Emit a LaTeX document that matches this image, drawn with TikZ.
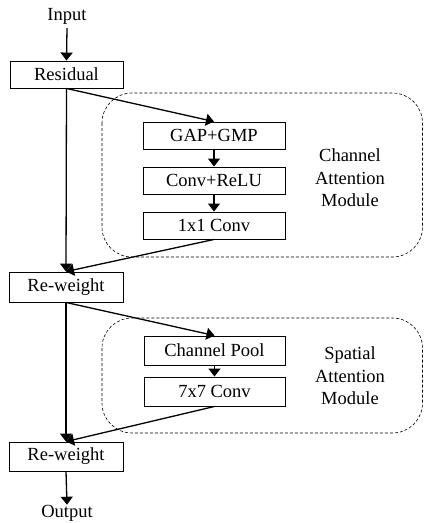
\documentclass[tikz,border=0pt]{standalone}
\usepackage{fontspec}
\setmainfont{Liberation Serif}
\usetikzlibrary{arrows.meta}
\begin{document}
\begin{tikzpicture}[x=1pt,y=-1pt,
  font=\fontsize{18.5}{22.5}\selectfont,
  blk/.style={draw,line width=0.9pt,inner sep=0pt,minimum height=27pt},
  flow/.style={line width=1.3pt,-{Triangle[length=8pt,width=12pt]}},
  group/.style={draw,dashed,line width=0.6pt,dash pattern=on 3pt off 2pt,rounded corners=30pt},
  lbl/.style={align=center,inner sep=0pt}]
\useasboundingbox (0,0) rectangle (424,523);

% dashed module outlines
\draw[group] (102,93) rectangle (422.5,257);
\draw[group] (102,318) rectangle (422.5,433);

% main column
\node[lbl] (in) at (67,16) {Input};
\node[blk,minimum width=113pt] (res) at (66.5,74.5) {Residual};
\node[blk,minimum width=114pt,minimum height=30pt] (rw1) at (66,287) {Re-weight};
\node[blk,minimum width=114pt,minimum height=29pt] (rw2) at (66,456.5) {Re-weight};
\node[lbl] (out) at (67,513) {Output};

% channel attention branch
\node[blk,minimum width=142pt] (gap) at (214,135.5) {GAP+GMP};
\node[blk,minimum width=142pt] (cr) at (214,180.5) {Conv+ReLU};
\node[blk,minimum width=142pt] (c1) at (214,225.5) {1x1 Conv};
\node[lbl] (cam) at (350,178) {Channel\\Attention\\Module};

% spatial attention branch
\node[blk,minimum width=141pt,minimum height=29pt] (cp) at (214.5,350.5) {Channel Pool};
\node[blk,minimum width=141pt,minimum height=29pt] (c7) at (214.5,391.5) {7x7 Conv};
\node[lbl] (sam) at (350,376) {Spatial\\Attention\\Module};

% connectors
\draw[flow] (in.south) ++(0,4) -- (res.north);
\draw[flow] (res.south) -- (rw1.north);
\draw[flow] (res.south) -- (gap.north);
\draw[flow] (gap) -- (cr);
\draw[flow] (cr) -- (c1);
\draw[flow] (c1.south) -- (rw1.north);

\draw[flow] (rw1.south) -- (rw2.north);
\draw[flow] (rw1.south) -- (cp.north);
\draw[flow] (cp) -- (c7);
\draw[flow] (c7.south) -- (rw2.north);

\draw[flow] (rw2.south) -- (out.north);
\end{tikzpicture}
\end{document}
